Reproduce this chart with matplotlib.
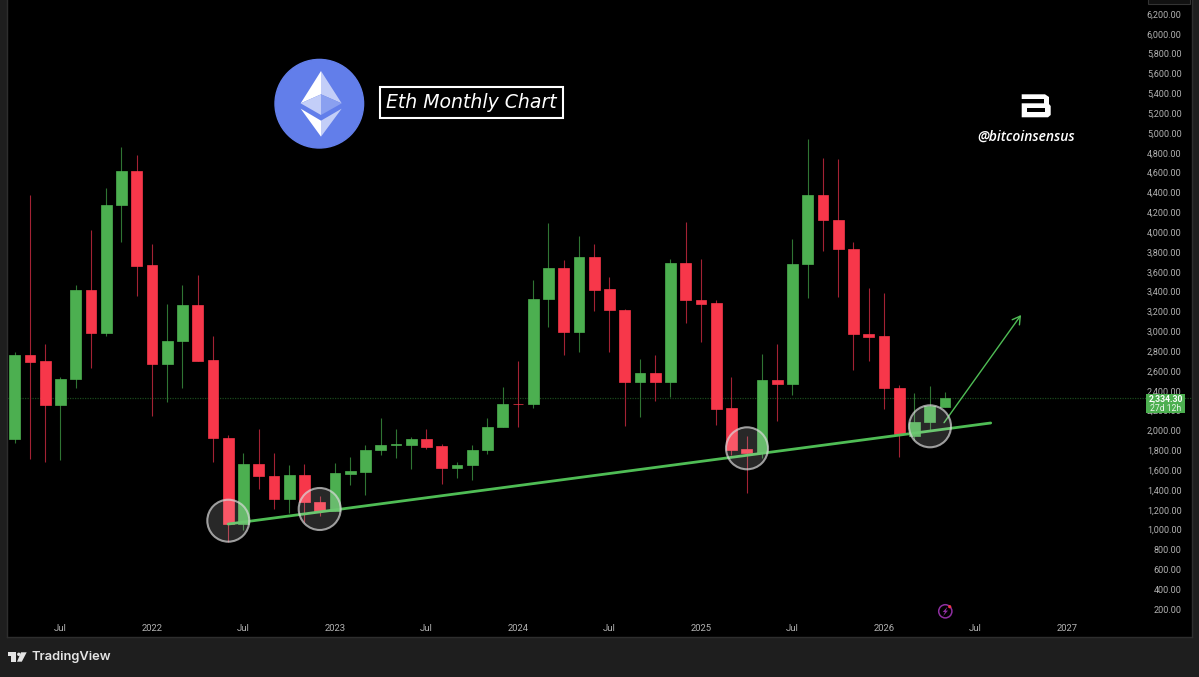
import matplotlib
matplotlib.use("Agg")
import matplotlib.pyplot as plt
from matplotlib.patches import Circle, Rectangle, Polygon

# monthly candles, Apr 2021 to May 2026
opens = [1921,2771,2708,2268,2526,3424,2993,4287,4630,3676,2677,2916,3279,2718,1935,1064,
         1673,1552,1320,1565,1286,1202,1575,1595,1814,1867,1867,1928,1851,1635,1659,1814,
         2042,2281,2274,3333,3649,3007,3763,3434,3225,2503,2593,2503,3699,3323,3293,2234,
         1820,1780,2523,2479,3686,4388,4136,3840,2983,2963,2442,1958,2093,2247]
highs = [2798,4382,2883,2553,3477,4032,4459,4866,4788,3888,3282,3477,3575,2963,1968,1787,
         2026,1784,1659,1673,1350,1679,1743,1861,2140,2022,1941,2025,1874,1689,1864,2133,
         2449,2714,3528,4099,3729,3971,3887,3558,3239,2728,2768,3740,4109,3740,3326,2550,
         1955,2785,2879,3938,4953,4761,4748,3911,3444,3397,2466,2385,2462,2399]
lows = [1888,1726,1696,1713,2442,2644,2966,3908,3370,2156,2301,2442,2711,1696,882,1007,
        1417,1222,1182,1091,1148,1195,1464,1363,1760,1733,1622,1827,1471,1531,1514,1773,
        2042,2049,2234,3050,2775,2805,3215,2798,2056,2150,2311,2351,3098,2906,2063,1760,
        1384,1730,2109,2372,3350,3824,3356,2620,2715,2231,1740,1915,2016,2247]
closes = [2771,2704,2268,2530,3424,2993,4287,4630,3672,2677,2916,3279,2715,1931,1064,1673,
          1552,1320,1565,1286,1202,1579,1602,1817,1861,1871,1928,1847,1635,1666,1817,2046,
          2277,2274,3340,3649,3007,3763,3427,3225,2503,2593,2503,3703,3323,3289,2231,1814,
          1784,2523,2479,3689,4388,4133,3837,2980,2957,2439,1972,2099,2254,2334.3]

last_price = 2334.30
y_ticks = list(range(200, 6400, 200))
x_ticks = [3, 9, 15, 21, 27, 33, 39, 45, 51, 57, 63, 69]
x_labels = ["Jul", "2022", "Jul", "2023", "Jul", "2024", "Jul", "2025", "Jul", "2026", "Jul", "2027"]
trend_x = [14.0, 64.0]
trend_y = [1067, 2086]
arrow_x = [60.94, 65.99]
arrow_y = [2089, 3175]

GREEN = "#4caf50"
RED = "#f7374a"
BG = "#1e1e1e"
W, H = 1199, 677
tick_font = "Roboto"

fig = plt.figure(figsize=(W / 100, H / 100), dpi=100, facecolor=BG)
# plot area runs from x=7 to 1192 and y=0 to 637 in pixels
ax = fig.add_axes([7 / W, (H - 637) / H, 1185 / W, 637 / H], facecolor="black")
ax.set_xlim(-0.505, 77.2)
ax.set_ylim(-72, 6351)

xs = list(range(len(opens)))
for i in xs:
    up = closes[i] >= opens[i]
    ax.vlines(i, lows[i], highs[i], color="#2f7433" if up else "#a32234", lw=0.8, zorder=2)
    ax.bar(i, abs(closes[i] - opens[i]), bottom=min(opens[i], closes[i]), width=0.7,
           color=GREEN if up else RED, edgecolor=GREEN if up else RED, lw=0.5, zorder=3)

ax.axhline(last_price, color="#1a4a1d", lw=0.9, ls=(0, (1, 1)), zorder=1)
ax.plot(trend_x, trend_y, color="#4fbd55", lw=2.0, solid_capstyle="round", zorder=4)
ax.annotate("", xy=(arrow_x[1], arrow_y[1]), xytext=(arrow_x[0], arrow_y[0]),
            arrowprops=dict(arrowstyle="->,head_length=0.55,head_width=0.32", color="#4fbd55", lw=1.0,
                            shrinkA=0, shrinkB=0), zorder=4)

ax.yaxis.tick_right()
ax.set_yticks(y_ticks)
ax.set_yticklabels([f"{v:,.2f}" for v in y_ticks], fontsize=6.5, color="#b2b2b2",
                   family=tick_font, ha="right", va="center")
ax.set_xticks(x_ticks)
ax.set_xticklabels(x_labels, fontsize=6.8, color="#b2b2b2", family=tick_font, va="center")
ax.tick_params(axis="y", length=0, pad=-7.5)
ax.tick_params(axis="x", length=0, pad=-6.2)
for s in ax.spines.values():
    s.set_color("#2e2e2e")
    s.set_linewidth(1.0)
ax.spines["top"].set_visible(False)

# overlay in pixel coordinates for the drawn-on decorations
ov = fig.add_axes([0, 0, 1, 1], facecolor="none")
ov.set_xlim(0, W)
ov.set_ylim(H, 0)
ov.axis("off")

for cx, cy in [(228.3, 520.7), (319.7, 509), (747, 448.3), (930, 426.3)]:
    ov.add_patch(Circle((cx, cy), 21, facecolor=(1, 1, 1, 0.16), edgecolor=(0.85, 0.85, 0.85, 0.7), lw=1.5))

# eth logo
ov.add_patch(Circle((319.3, 103.7), 44.3, color="#627eea"))
def lp(points):
    return [(260 + a / 3, 50 + b / 3) for a, b in points]
ov.add_patch(Polygon(lp([(183, 63), (122, 160), (183, 133)]), color="#ffffff", lw=0))
ov.add_patch(Polygon(lp([(183, 63), (245, 160), (183, 133)]), color="#c3cef8", lw=0))
ov.add_patch(Polygon(lp([(122, 160), (183, 133), (183, 195)]), color="#c3cef8", lw=0))
ov.add_patch(Polygon(lp([(245, 160), (183, 133), (183, 195)]), color="#8aa0f0", lw=0))
ov.add_patch(Polygon(lp([(122, 176), (183, 212), (183, 260)]), color="#ffffff", lw=0))
ov.add_patch(Polygon(lp([(245, 176), (183, 212), (183, 260)]), color="#c3cef8", lw=0))

# title box
ov.add_patch(Rectangle((380, 87), 182.5, 30.5, facecolor="black", edgecolor="white", lw=1.5))
ov.text(471, 102, "Eth Monthly Chart", color="white", fontsize=13.6, style="italic",
        family="DejaVu Sans", ha="center", va="center")

# watermark
ov.add_patch(Polygon([(1021.7, 94.3), (1045, 94.3), (1049, 97), (1049, 104), (1050.7, 106), (1050.7, 115),
                      (1048, 117.3), (1021.7, 117.3), (1021.7, 103.3), (1044, 103.3), (1044, 99), (1021.7, 99)],
                     color="white", lw=0))
ov.add_patch(Rectangle((1026.7, 107.8), 18.6, 4.6, color="black", lw=0))
ov.text(1026.5, 137, "@bitcoinsensus", color="white", fontsize=10, style="italic",
        weight="semibold", family="Open Sans", ha="center", va="center")

# last price label
ov.add_patch(Rectangle((1146, 393.7), 39.3, 19.6, color=GREEN, lw=0))
ov.text(1165.6, 398.4, f"{last_price:,.2f}", color="white", fontsize=6.2, weight="bold",
        family=tick_font, ha="center", va="center")
ov.text(1165.6, 408.2, "27d 12h", color="#e8f5e9", fontsize=6.2, family=tick_font, ha="center", va="center")

# small tab at the top of the price scale
ov.add_patch(Rectangle((1148, -4), 42, 8, facecolor="#111111", edgecolor="#333333", lw=0.8))

# lightning marker
ov.add_patch(Circle((945.3, 611.3), 6.6, facecolor="none", edgecolor="#8e2fa0", lw=1.1))
ov.add_patch(Polygon([(947.5, 606.8), (942.7, 612), (945, 612), (943.2, 616), (948, 610.6), (945.7, 610.6)],
                     color="#8e2fa0", lw=0))
ov.add_patch(Circle((949.7, 606.7), 1.6, color="#f23645", lw=0))

# tradingview logo
LOGO = "#e4e4e4"
ov.add_patch(Polygon([(7.7, 652.3), (16, 652.3), (16, 661.7), (11, 661.7), (11, 656.3), (7.7, 656.3)], color=LOGO, lw=0))
ov.add_patch(Circle((18.8, 654.3), 1.7, color=LOGO, lw=0))
ov.add_patch(Polygon([(21, 652.3), (26.7, 652.3), (21.8, 661.7), (17, 661.7)], color=LOGO, lw=0))
ov.text(32, 657, "TradingView", color=LOGO, fontsize=9.3, weight="semibold", family="Inter",
        ha="left", va="center")

fig.savefig("out.png", dpi=100, facecolor=BG)
plt.close()
